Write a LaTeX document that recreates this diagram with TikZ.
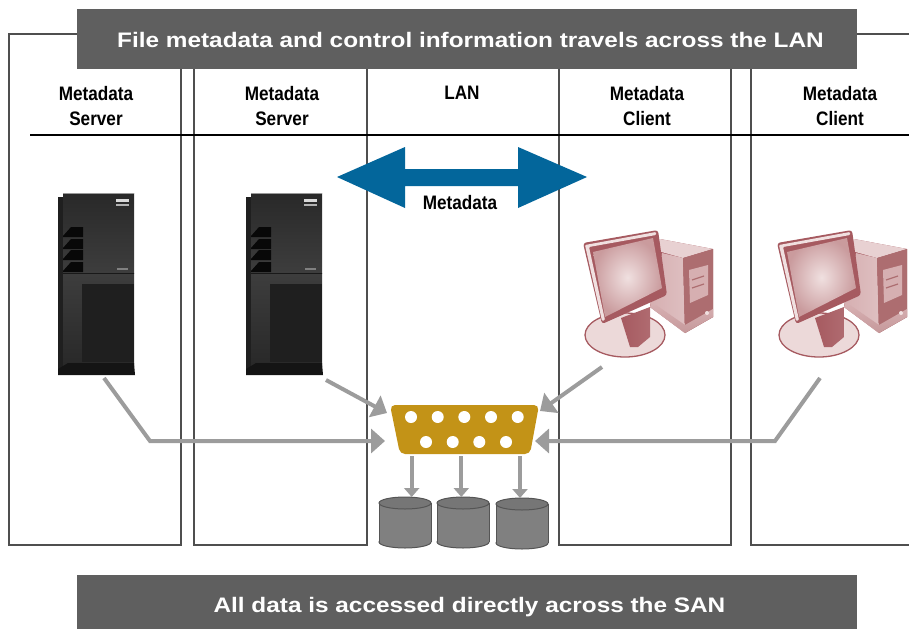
\documentclass[tikz,border=0pt]{standalone}
\usepackage{fontspec}
\usepackage{tikz}
\usetikzlibrary{arrows.meta}
\newfontfamily\colfont[FakeStretch=0.88]{Liberation Sans}
\newfontfamily\barfont[FakeStretch=1.16]{Liberation Sans}
\definecolor{panelgrey}{HTML}{4F4F4F}
\definecolor{bargrey}{HTML}{5F5F5F}
\definecolor{linkgrey}{HTML}{9C9C9C}
\definecolor{lanblue}{HTML}{03669B}
\definecolor{plugyellow}{HTML}{C39317}
\definecolor{diskgrey}{HTML}{808080}
\definecolor{diskedge}{HTML}{555555}
\definecolor{pcline}{HTML}{A65A60}
\definecolor{pcdark}{HTML}{AD6D70}
\definecolor{pcmid}{HTML}{D6AFB1}
\definecolor{pclight}{HTML}{F0E0E0}
\tikzset{
  panel/.style={draw=panelgrey, line width=1.5pt},
  link/.style={draw=linkgrey, line width=4pt, -{Triangle[length=14pt,width=24pt]}},
  droplink/.style={draw=linkgrey, line width=4pt, -{Triangle[length=9pt,width=15pt]}},
  bar/.style={fill=bargrey, inner sep=0pt, minimum width=780pt},
  barlabel/.style={text=white, inner sep=0pt, font=\barfont\bfseries\fontsize{21}{25}\selectfont},
  collabel/.style={align=center, inner sep=0pt, font=\colfont\bfseries\fontsize{19.5}{25}\selectfont},
  server/.pic={
    \fill [black!88] (0,4) rectangle (6,178);
    \shade [top color=black!84, bottom color=black!76] (5,0) rectangle (76,80);
    \shade [top color=black!76, bottom color=black!84] (5,80) rectangle (76,172);
    \draw [black!40] (5,0) -- (76,0);
    \draw [black!90, line width=1pt] (5,80) -- (76,80);
    \foreach \y in {34,46,57,69} {
      \fill [black!97] (5,\y + 9) -- (13,\y) -- (25,\y) -- (25,\y + 10) -- (5,\y + 10) -- cycle;
    }
    \fill [black!88] (24,91) rectangle (76,169);
    \fill [black!92] (0,176) -- (10,170) -- (76,170) -- (77,182) -- (0,182) -- cycle;
    \fill [white!85!black] (58,6) rectangle (71,9);
    \fill [white!70!black] (58,11) rectangle (71,13);
    \fill [black!50] (59,75) rectangle (70,77);
  },
  client/.pic={
    \fill [pcline] (90,19) -- (143,29) -- (143,97) -- (115,113) -- (80,87) -- cycle;
    \fill [pclight!70!pcmid] (90,19) -- (143,29) -- (113,38) -- (88,31) -- cycle;
    \shade [left color=pcmid, right color=pcmid!80!white] (92,33) -- (113,38) -- (115,113) -- (80,87) -- cycle;
    \fill [pcdark] (113,38) -- (143,29) -- (143,97) -- (115,113) -- cycle;
    \shade [top color=pcmid, bottom color=pcdark!70!white] (86,85) -- (115,105) -- (143,89) -- (143,97) -- (115,113) -- (80,87) -- cycle;
    \fill [pcmid] (119,50) -- (138,45) -- (138,75) -- (120,83) -- cycle;
    \draw [pcdark, line width=1.2pt] (122,60) -- (134,56) (122,68) -- (134,64);
    \fill [pclight] (137,93) circle (2);
    \draw [pcline, line width=1.3pt, fill=pclight!85!pcmid] (55,115) ellipse [x radius=40, y radius=22];
    \shade [left color=pcline, right color=pcline!80!pcmid] (51,98) -- (80,87) -- (80,117) -- (68,127) -- (60,127) -- cycle;
    \fill [pcline, rounded corners=3pt] (13,23) -- (88,10) -- (97,75) -- (32,104) -- cycle;
    \fill [pclight, rounded corners=1pt] (15,25) -- (86,12) -- (86,15) -- (19,27) -- (35,100) -- (32,101) -- cycle;
    \shade [inner color=pclight, outer color=pcmid!70!pcdark] (23,32) -- (83,18) -- (92,68) -- (35,97) -- cycle;
  },
  disk/.pic={
    \draw [diskedge, line width=1pt, fill=diskgrey] (0,45) ellipse [x radius=26, y radius=6];
    \fill [diskgrey] (-26,6) rectangle (26,45);
    \draw [diskedge, line width=1pt] (-26,6) -- (-26,45) (26,6) -- (26,45);
    \draw [diskedge, line width=1pt, fill=diskgrey!92!black] (0,6) ellipse [x radius=26, y radius=6];
    \coordinate (-top) at (0,0);
  },
}
\begin{document}
\begin{tikzpicture}[x=1pt, y=-1pt]
    \useasboundingbox (0,0) rectangle (909,629);

    \draw [panel] (9,34) rectangle (181,545);
    \draw [panel] (194,34) rectangle (367,545);
    \draw [panel] (559,34) rectangle (731,545);
    \draw [panel] (909,34) -- (751,34) -- (751,545) -- (909,545);
    \draw [black, line width=2pt] (30,135) -- (909,135);

    \node [bar, minimum height=60pt] (topbar) at (467,39) {};
    \node [bar, minimum height=54pt] (lowbar) at (467,602) {};
    \node [barlabel] (toptext) at (470.5,40) {File metadata and control information travels across the LAN};
    \node [barlabel] (lowtext) at (469.5,607.5) {All data is accessed directly across the SAN};

    \node [collabel] (headA) at (96,106) {Metadata\\Server};
    \node [collabel] (headB) at (282,106) {Metadata\\Server};
    \node [collabel] (headC) at (462,93) {LAN};
    \node [collabel] (headD) at (647,106) {Metadata\\Client};
    \node [collabel] (headE) at (840,106) {Metadata\\Client};

    \fill [lanblue] (337,177) -- (405,147) -- (405,169) -- (518,169) -- (518,147) -- (587,177) -- (518,208) -- (518,186) -- (405,186) -- (405,208) -- cycle;
    \node [collabel] (lanlabel) at (460,203) {Metadata};

    \pic (srvA) at (58,193) {server};
    \pic (srvB) at (246,193) {server};
    \pic (pcA) at (570,220) {client};
    \pic (pcB) at (764,220) {client};

    \fill [plugyellow, rounded corners=5pt] (390,405) -- (539,405) -- (530,454) -- (400,454) -- cycle;
    \foreach \x in {411,437.7,464.3,491,517.7} {
      \fill [white] (\x,417) circle (6);
    }
    \foreach \x in {426,452.7,479.3,506} {
      \fill [white] (\x,442) circle (6);
    }

    \pic (diskA) at (405,497) {disk};
    \pic (diskB) at (463,497) {disk};
    \pic (diskC) at (522,498) {disk};

    \coordinate (srvAfoot) at (104,378);
    \coordinate (srvBfoot) at (326,380);
    \coordinate (pcAfoot) at (602,367);
    \coordinate (pcBfoot) at (820,378);
    \coordinate (bendA) at (150,441);
    \coordinate (bendB) at (775,441);
    \coordinate (plugL) at (385,441);
    \coordinate (plugR) at (535,441);
    \coordinate (plugNW) at (387,413);
    \coordinate (plugNE) at (540,411);
    \coordinate (tapA) at (411.7,456);
    \coordinate (tapB) at (461.3,456);
    \coordinate (tapC) at (520,456);

    \draw [link] (srvAfoot) -- (bendA) -- (plugL);
    \draw [link] (srvBfoot) -- (plugNW);
    \draw [link] (pcAfoot) -- (plugNE);
    \draw [link] (pcBfoot) -- (bendB) -- (plugR);
    \draw [droplink] (tapA) -- (tapA |- diskA-top);
    \draw [droplink] (tapB) -- (tapB |- diskB-top);
    \draw [droplink] (tapC) -- (tapC |- diskC-top);
\end{tikzpicture}
\end{document}
